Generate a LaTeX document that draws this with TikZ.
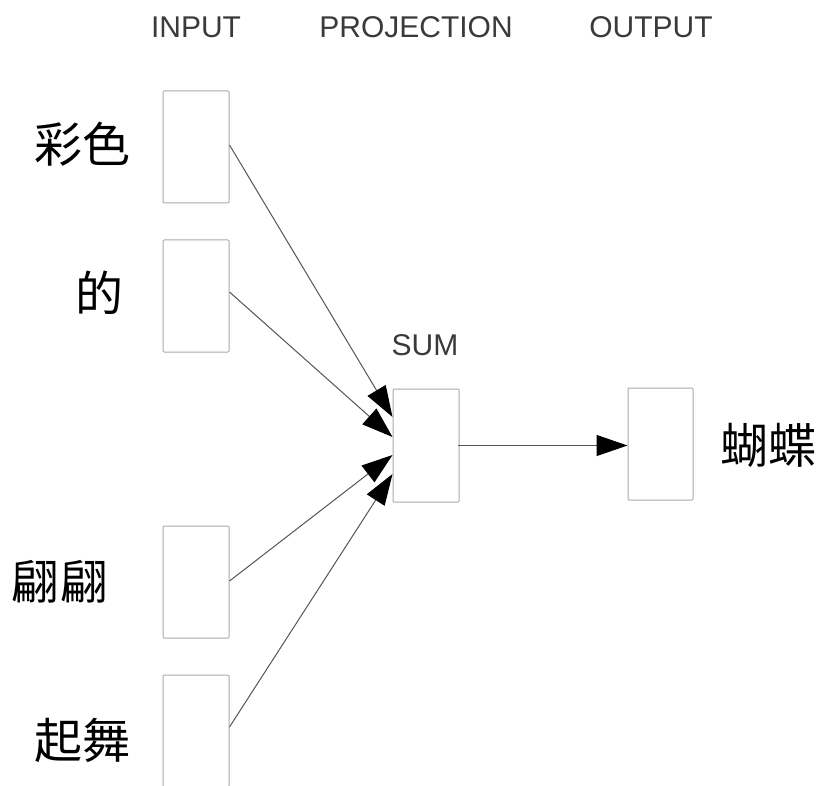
\documentclass[tikz,border=0pt]{standalone}
\usepackage{fontspec}
\setmainfont{Liberation Sans}
\newfontfamily\cjk{Noto Sans CJK TC}
\usetikzlibrary{arrows.meta,calc}
\definecolor{hdr}{HTML}{3A3A3A}
\definecolor{boxc}{HTML}{AAAAAA}
\definecolor{linec}{HTML}{555555}
\tikzset{
  cell/.style={draw=boxc, line width=1pt, rounded corners=1pt, minimum width=66pt, minimum height=112pt, inner sep=0pt, fill=white},
  hdrtext/.style={text=hdr, font=\fontsize{30}{32}\selectfont, inner sep=0pt},
  word/.style={font=\cjk\fontsize{48}{50}\selectfont, inner sep=0pt},
  conn/.style={draw=linec, line width=1pt, -{Triangle[length=31pt,width=21pt,color=black]}}
}
\begin{document}
\begin{tikzpicture}[x=1pt,y=-1pt]
\useasboundingbox (0,0) rectangle (821,786);
\node[hdrtext] (hin) at (196,27) {INPUT};
\node[hdrtext] (hproj) at (416,27) {PROJECTION};
\node[hdrtext] (hout) at (651,27) {OUTPUT};
\node[hdrtext] (hsum) at (425,345) {SUM};

\node[cell] (b1) at (196,147) {};
\node[cell] (b2) at (196,296) {};
\node[cell] (b3) at (196,582) {};
\node[cell] (b4) at (196,731) {};
\node[cell, minimum height=113pt] (sum) at (426,445.5) {};
\node[cell, minimum width=65pt] (out) at (660.5,444) {};

\node[word] (w1) at (82,144) {彩色};
\node[word] (w2) at (99,293) {的};
\node[word] (w3) at (60,582) {翩翩};
\node[word] (w4) at (82,740) {起舞};
\node[word] (w5) at (768,445) {蝴蝶};

\draw[conn] ($(b1.east)+(0,-2)$) -- ($(sum.west)+(0,-28.5)$);
\draw[conn] ($(b2.east)+(0,-4)$) -- ($(sum.west)+(0,-8.5)$);
\draw[conn] ($(b3.east)+(0,-1)$) -- ($(sum.west)+(0,9.5)$);
\draw[conn] ($(b4.east)+(0,-4)$) -- ($(sum.west)+(0,28.5)$);
\draw[conn] ($(sum.east)+(-2,0)$) -- (out.west |- sum.east);
\end{tikzpicture}
\end{document}
